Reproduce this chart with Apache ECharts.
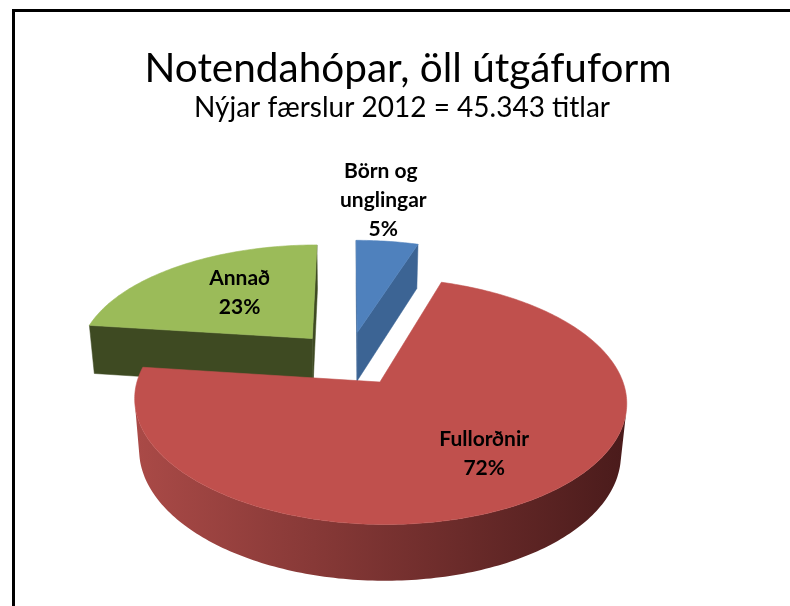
<!DOCTYPE html>
<html>
<head>
<meta charset="utf-8">
<title>Notendahópar, öll útgáfuform</title>
<script src="https://cdn.jsdelivr.net/npm/echarts@6/dist/echarts.min.js"></script>
<style>
    html, body { margin: 0; padding: 0; background: #fff; }
    #chart { width: 790px; height: 606px; }
</style>
</head>
<body>
<div id="chart"></div>
<script>
// gögn
var categories = ["Börn og unglingar", "Fullorðnir", "Annað"];
var percentValues = [5, 72, 23];
var titleText = "Notendahópar, öll útgáfuform";
var subtitleText = "Nýjar færslur 2012 = 45.343 titlar";

// útlit sneiða
var topColors = ["#4F81BD", "#C0504D", "#9BBB59"];
var wallColors = ["#3C6494", "#8A3532", "#3E4A22"];
var rimColors = [["#5B89C2", "#2F4D73"], ["#AA4A47", "#4A1B1B"], ["#6F8A3C", "#3A4520"]];
var labelRadius = [-1, 0.68, 0.55]; // -1 = merki fyrir ofan sneiðina

// 3D vörpun (sjónarhorn svipað og í Excel)
var FOCAL = 1378;
var CAM_DIST = 5.848;
var TILT = 28.7 * Math.PI / 180;
var ORIGIN_X = 348.7, ORIGIN_Y = 358.4;
var THICK = 0.245;
var EXPLODE = 0.24;

var sinT = Math.sin(TILT), cosT = Math.cos(TILT);
var camera = [0, CAM_DIST * sinT, CAM_DIST * cosT];
var rad = Math.PI / 180;

function project(p) {
    var depth = CAM_DIST - p[2] * cosT - p[1] * sinT;
    var u = p[1] * cosT - p[2] * sinT;
    return [ORIGIN_X + FOCAL * p[0] / depth, ORIGIN_Y - FOCAL * u / depth];
}

function facing(p, n) {
    return (camera[0] - p[0]) * n[0] + (camera[1] - p[1]) * n[1] + (camera[2] - p[2]) * n[2] > 0;
}

// horn sneiða reiknuð úr gögnum
var total = percentValues.reduce(function(a, b) { return a + b; }, 0);
var slices = [];
var acc = 0;
for (var i = 0; i < percentValues.length; i++) {
    var start = acc / total * 360;
    acc += percentValues[i];
    var end = acc / total * 360;
    var mid = (start + end) / 2;
    slices.push({
        start: start,
        end: end,
        mid: mid,
        ox: EXPLODE * Math.sin(mid * rad),
        oz: -EXPLODE * Math.cos(mid * rad)
    });
}

function rim(s, deg, y, r) {
    r = r == null ? 1 : r;
    return [s.ox + r * Math.sin(deg * rad), y, s.oz - r * Math.cos(deg * rad)];
}

function arcSteps(s) {
    var n = Math.max(2, Math.ceil(s.end - s.start));
    var list = [];
    for (var k = 0; k <= n; k++) list.push(s.start + (s.end - s.start) * k / n);
    return list;
}

// hliðar (veggir) sneiða
var renderSides = function(params, api) {
    var idx = params.dataIndex;
    var s = slices[idx];
    var children = [];
    var apexTop = [s.ox, 0, s.oz], apexBot = [s.ox, -THICK, s.oz];

    // geislaveggir
    var edges = [
        { deg: s.start, n: [-Math.cos(s.start * rad), 0, -Math.sin(s.start * rad)] },
        { deg: s.end, n: [Math.cos(s.end * rad), 0, Math.sin(s.end * rad)] }
    ];
    edges.forEach(function(e) {
        if (!facing(apexTop, e.n)) return;
        children.push({
            type: "polygon",
            shape: { points: [apexTop, rim(s, e.deg, 0), rim(s, e.deg, -THICK), apexBot].map(project) },
            style: { fill: wallColors[idx], stroke: wallColors[idx], lineWidth: 0.5 }
        });
    });

    // ytri veggur, aðeins sá hluti sem snýr að áhorfanda
    var steps = arcSteps(s);
    var runs = [], cur = null;
    for (var k = 0; k < steps.length; k++) {
        var d = steps[k];
        var n = [Math.sin(d * rad), 0, -Math.cos(d * rad)];
        if (facing(rim(s, d, -THICK / 2), n)) {
            if (!cur) { cur = []; runs.push(cur); }
            cur.push(d);
        } else {
            cur = null;
        }
    }
    runs.forEach(function(run) {
        if (run.length < 2) return;
        var topPts = run.map(function(d) { return project(rim(s, d, 0)); });
        var botPts = run.map(function(d) { return project(rim(s, d, -THICK)); }).reverse();
        var pts = topPts.concat(botPts);
        var xs = pts.map(function(p) { return p[0]; });
        var minX = Math.min.apply(null, xs), maxX = Math.max.apply(null, xs);
        children.push({
            type: "polygon",
            shape: { points: pts },
            style: {
                fill: new echarts.graphic.LinearGradient(minX, 0, maxX, 0, [
                    { offset: 0, color: rimColors[idx][0] },
                    { offset: 1, color: rimColors[idx][1] }
                ], true)
            }
        });
    });

    return { type: "group", children: children };
};

// toppfletir og merki
var renderTops = function(params, api) {
    var idx = params.dataIndex;
    var s = slices[idx];
    var pts = [project([s.ox, 0, s.oz])];
    arcSteps(s).forEach(function(d) { pts.push(project(rim(s, d, 0))); });

    var label = categories[idx] + "\n" + api.value(0) + "%";
    var lr = labelRadius[idx];
    var textStyle = {
        text: label,
        fill: "#000",
        fontFamily: "Lato",
        fontWeight: "bold",
        fontSize: 21,
        lineHeight: 29,
        align: "center",
        width: 130,
        overflow: "break"
    };
    if (lr < 0) {
        var a = project(rim(s, s.mid, 0, 1));
        textStyle.x = a[0] - 4;
        textStyle.y = a[1] + 2;
        textStyle.verticalAlign = "bottom";
    } else {
        var b = project(rim(s, s.mid, 0, lr));
        textStyle.x = b[0] + 4;
        textStyle.y = b[1] - 4;
        textStyle.verticalAlign = "middle";
    }

    return {
        type: "group",
        children: [{
            type: "polygon",
            shape: { points: pts },
            style: { fill: topColors[idx], stroke: topColors[idx], lineWidth: 0.6 }
        }, {
            type: "text",
            style: textStyle,
            z2: 10
        }]
    };
};

var pieData = categories.map(function(name, i) {
    return { name: name, value: percentValues[i] };
});

var myChart = echarts.init(document.getElementById("chart"));
myChart.setOption({
    animation: false,
    backgroundColor: "#fff",
    graphic: [{
        type: "polyline",
        shape: { points: [[13.5, 610], [13.5, 10.5], [791, 10.5]] },
        style: { stroke: "#000", lineWidth: 3, fill: null }
    }, {
        type: "text",
        x: 408,
        y: 69,
        style: {
            text: titleText,
            fill: "#000",
            fontFamily: "Lato",
            fontSize: 40.5,
            align: "center",
            verticalAlign: "middle"
        }
    }, {
        type: "text",
        x: 402,
        y: 108,
        style: {
            text: subtitleText,
            fill: "#000",
            fontFamily: "Lato",
            fontSize: 28,
            align: "center",
            verticalAlign: "middle"
        }
    }],
    series: [{
        type: "custom",
        coordinateSystem: "none",
        renderItem: renderSides,
        data: pieData,
        z: 1
    }, {
        type: "custom",
        coordinateSystem: "none",
        renderItem: renderTops,
        data: pieData,
        z: 2
    }]
});
</script>
</body>
</html>
